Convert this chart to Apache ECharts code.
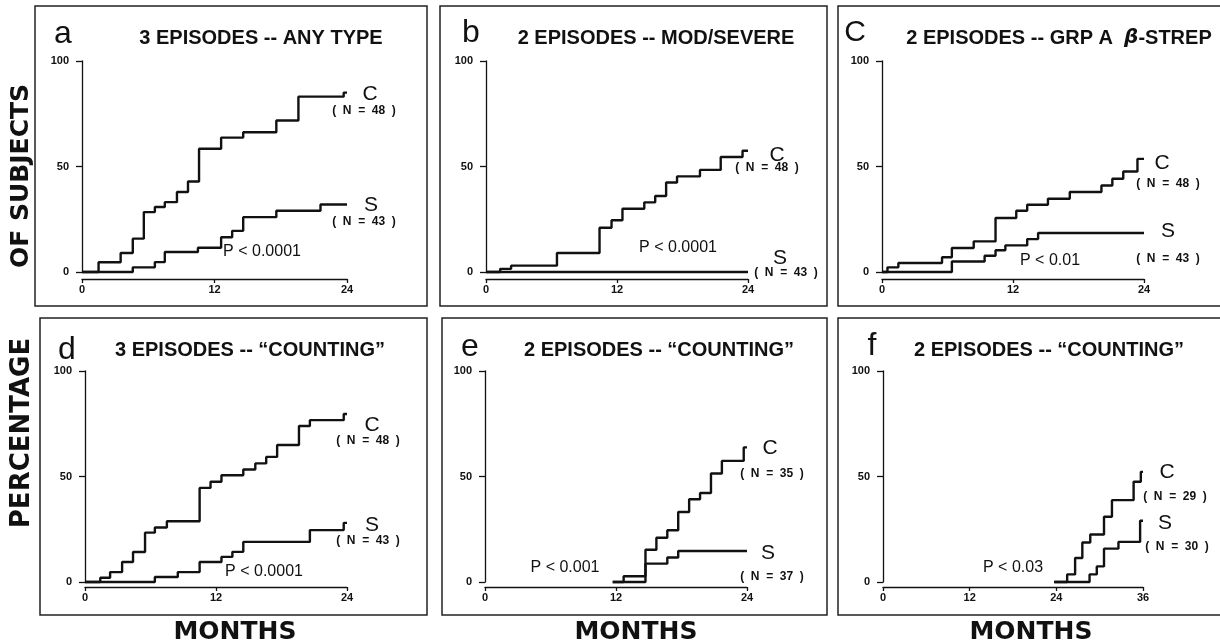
<!DOCTYPE html>
<html>
<head>
<meta charset="utf-8">
<script src="https://cdn.jsdelivr.net/npm/echarts@6/dist/echarts.min.js"></script>
<style>
html,body{margin:0;padding:0;background:#fff;}
#chart{width:1220px;height:644px;}
</style>
</head>
<body>
<div id="chart"></div>
<script>
// ---------------- DATA ----------------
const yTicks = [0, 50, 100];
const xMax = [24, 24, 24, 24, 24, 36];

const panelLetters = ['a', 'b', 'C', 'd', 'e', 'f'];
const panelTitles = [
  '3 EPISODES -- ANY TYPE',
  '2 EPISODES -- MOD/SEVERE',
  '2 EPISODES -- GRP A  {b|β}-STREP',
  '3 EPISODES -- “COUNTING”',
  '2 EPISODES -- “COUNTING”',
  '2 EPISODES -- “COUNTING”'
];
const groupC = 'C';
const groupS = 'S';
const nC = ['(  N  =  48  )', '(  N  =  48  )', '(  N  =  48  )', '(  N  =  48  )', '(  N  =  35  )', '(  N  =  29  )'];
const nS = ['(  N  =  43  )', '(  N  =  43  )', '(  N  =  43  )', '(  N  =  43  )', '(  N  =  37  )', '(  N  =  30  )'];
const pValues = ['P < 0.0001', 'P < 0.0001', 'P < 0.01', 'P < 0.0001', 'P < 0.001', 'P < 0.03'];
const yTitleTop = 'OF SUBJECTS';
const yTitleBottom = 'PERCENTAGE';
const xTitle = 'MONTHS';

// cumulative percentage: [month, level from that month on]
const aC = [[0,0],[1.5,4.6],[3.5,9],[4.6,15.8],[5.6,28.4],[6.6,30.8],[7.5,33.1],[8.6,37.9],[9.6,42.9],[10.6,58.4],[12.6,63.7],[14.6,66.2],[17.6,71.8],[19.6,83.1],[23.7,85],[24,85]];
const aS = [[0,0],[4.6,2.2],[6.6,4.7],[7.5,9.5],[10.5,11.5],[12.6,16.5],[13.6,19.5],[14.6,26],[17.6,29],[21.6,32],[24,32]];
const bC = [[0,0],[1.3,1.5],[2.3,3],[6.5,9],[10.4,21],[11.5,24.5],[12.5,30],[14.5,33],[15.5,36],[16.5,42.4],[17.5,45.3],[19.6,48.4],[21.5,54.5],[23.5,57.5],[24,57.5]];
const bS = [[0,0],[24,0]];
const cC = [[0,0],[0.5,2.2],[1.5,4.3],[5.5,7],[6.4,11.4],[8.4,14.5],[10.4,25.6],[12.3,29],[13.3,31.9],[15.2,34.7],[17.2,37.9],[20.1,41],[21.1,44.2],[22.1,47.6],[23.4,53.6],[24,53.6]];
const cS = [[0,0],[6.4,5],[9.4,7.7],[10.4,10.3],[11.3,12.6],[13.3,15.6],[14.3,18.5],[24,18.5]];
const dC = [[0,0],[1.4,2],[2.3,4.7],[3.4,9.5],[4.4,14.2],[5.5,23.4],[6.4,25.8],[7.5,28.8],[10.5,44.6],[11.5,47.5],[12.5,50.6],[14.5,53.3],[15.6,56.2],[16.6,59.3],[17.6,64.9],[19.6,73.9],[20.6,76.7],[23.7,79.6],[24,79.6]];
const dS = [[0,0],[6.4,2.4],[8.5,4.7],[10.5,9.5],[12.5,11.9],[13.5,14.3],[14.5,19],[20.6,24.6],[23.7,28],[24,28]];
const eC = [[11.7,0],[12.7,2.7],[14.7,15.3],[15.7,21],[16.7,24.5],[17.7,33.2],[18.7,39.2],[19.7,42.2],[20.7,51.4],[21.7,57.4],[23.7,63.8],[24,63.8]];
const eS = [[11.7,0],[14.7,8.7],[16.7,11.6],[17.7,14.7],[24,14.7]];
const fC = [[23.7,0],[25.5,3.6],[26.6,11.4],[27.6,18.7],[28.7,22.5],[30.6,30.9],[31.7,38.8],[34.7,47.5],[35.7,52.2],[36,52.2]];
const fS = [[23.7,0],[28.6,3.6],[29.6,7.4],[30.6,15.8],[32.6,19],[35.6,29],[36,29]];

const seriesC = [aC, bC, cC, dC, eC, fC];
const seriesS = [aS, bS, cS, dS, eS, fS];

// ---------------- LAYOUT ----------------
const grids = [
  {left: 82,  top: 61,  width: 265, height: 211},
  {left: 486, top: 61,  width: 262, height: 211},
  {left: 882, top: 61,  width: 262, height: 211},
  {left: 85,  top: 371, width: 262, height: 211},
  {left: 485, top: 371, width: 262, height: 211},
  {left: 883, top: 371, width: 260, height: 211}
];
const boxes = [
  {x: 35, y: 6, w: 392, h: 300},
  {x: 440, y: 6, w: 387, h: 300},
  {x: 838, y: 6, w: 390, h: 300},
  {x: 40, y: 318, w: 387, h: 297},
  {x: 442, y: 318, w: 385, h: 297},
  {x: 838, y: 318, w: 390, h: 297}
];
const letterPos = [[63,34],[471,33],[855,33],[67,350],[470,347],[872,346]];
const titlePos = [[261,38],[656,38],[1059,38],[250,350],[659,350],[1049,350]];
const cLabPos = [[370,94],[777,155],[1162,163],[372,425],[770,448],[1167,472]];
const cNPos = [[364,111],[767,168],[1168,184],[368,441],[772,474],[1175,497]];
const sLabPos = [[371,205],[780,258],[1168,231],[372,525],[768,553],[1165,523]];
const sNPos = [[364,222],[786,273],[1168,259],[368,541],[772,577],[1177,547]];
const pPos = [[262,252],[678,248],[1050,261],[264,572],[565,568],[1013,568]];
const monthsX = [235, 636, 1031];

const ink = '#111';
const tickFont = {fontFamily: 'Liberation Sans', fontWeight: 'bold', fontSize: 11, color: ink};

const option = {
  animation: false,
  backgroundColor: '#fff',
  grid: grids.map(g => Object.assign({containLabel: false}, g)),
  xAxis: grids.map((g, i) => ({
    type: 'value', gridIndex: i, min: 0, max: xMax[i], interval: 12,
    offset: i < 3 ? 7 : 5,
    axisLine: {show: true, onZero: false, lineStyle: {color: ink, width: 1.3}},
    axisTick: {show: true, length: 4, lineStyle: {color: ink, width: 1.3}},
    axisLabel: Object.assign({margin: 5}, tickFont),
    splitLine: {show: false}
  })),
  yAxis: grids.map((g, i) => ({
    type: 'value', gridIndex: i, min: yTicks[0], max: yTicks[2], interval: 50,
    offset: 9,
    axisLine: {show: true, lineStyle: {color: ink, width: 1.3}},
    axisTick: {show: true, length: 6, lineStyle: {color: ink, width: 1.3}},
    axisLabel: Object.assign({margin: 4}, tickFont),
    splitLine: {show: false}
  })),
  series: [],
  graphic: []
};

for (let i = 0; i < 6; i++) {
  [seriesC[i], seriesS[i]].forEach((d, k) => {
    option.series.push({
      type: 'line', xAxisIndex: i, yAxisIndex: i, step: 'end',
      data: d, symbol: 'none', clip: false,
      lineStyle: {color: ink, width: 2.4}
    });
  });
  const b = boxes[i];
  option.graphic.push({
    type: 'rect', shape: {x: b.x, y: b.y, width: b.w, height: b.h},
    style: {fill: 'none', stroke: '#222', lineWidth: 1.5}
  });
  option.graphic.push({
    type: 'text', x: letterPos[i][0], y: letterPos[i][1],
    style: {text: panelLetters[i], font: (i === 2 ? '30px' : '32px') + ' "Liberation Sans"', fill: ink, textAlign: 'center', textVerticalAlign: 'middle'}
  });
  option.graphic.push({
    type: 'text', x: titlePos[i][0], y: titlePos[i][1],
    style: {text: panelTitles[i], font: 'bold 20px "Liberation Sans"', fill: ink, textAlign: 'center', textVerticalAlign: 'middle',
      rich: {b: {fontStyle: 'italic', fontWeight: 'bold', fontSize: 20, fontFamily: 'DejaVu Sans', fill: ink}}}
  });
  const lab = (pos, txt, font) => option.graphic.push({
    type: 'text', x: pos[0], y: pos[1],
    style: {text: txt, font: font, fill: ink, textAlign: 'center', textVerticalAlign: 'middle'}
  });
  lab(cLabPos[i], groupC, '21px "Liberation Sans"');
  lab(sLabPos[i], groupS, '21px "Liberation Sans"');
  lab(cNPos[i], nC[i], 'bold 12px "Liberation Sans"');
  lab(sNPos[i], nS[i], 'bold 12px "Liberation Sans"');
  lab(pPos[i], pValues[i], '16px "Liberation Sans"');
}

const axisTitleFont = 'bold 25px "DejaVu Sans"';
option.graphic.push({
  type: 'text', x: 21, y: 176, rotation: Math.PI / 2,
  style: {text: yTitleTop, font: axisTitleFont, fill: ink, textAlign: 'center', textVerticalAlign: 'middle'}
});
option.graphic.push({
  type: 'text', x: 22, y: 433, rotation: Math.PI / 2,
  style: {text: yTitleBottom, font: 'bold 26px "DejaVu Sans"', fill: ink, textAlign: 'center', textVerticalAlign: 'middle'}
});
monthsX.forEach(x => option.graphic.push({
  type: 'text', x: x, y: 632,
  style: {text: xTitle, font: axisTitleFont, fill: ink, textAlign: 'center', textVerticalAlign: 'middle'}
}));

const chart = echarts.init(document.getElementById('chart'), null, {renderer: 'canvas'});
chart.setOption(option);
</script>
</body>
</html>
